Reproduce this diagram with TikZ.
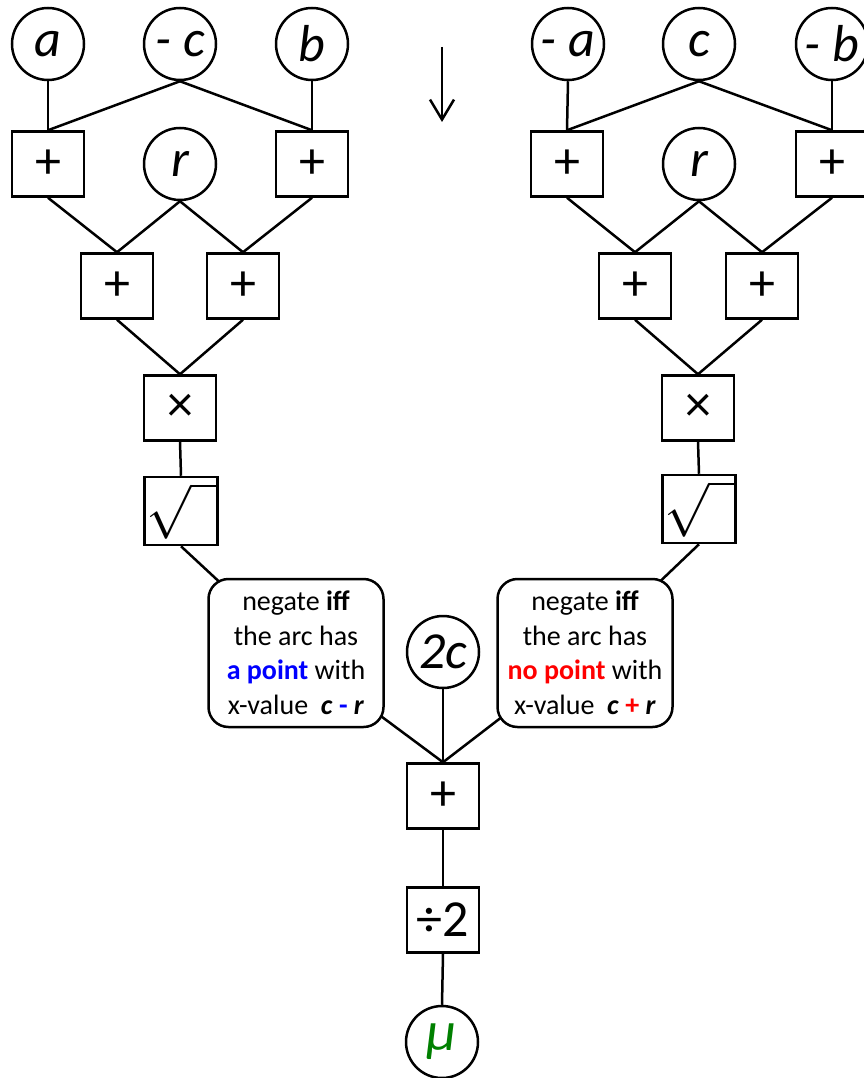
\documentclass[tikz,border=0pt]{standalone}
\usepackage{fontspec}
\setmainfont{Carlito}
\usepackage{graphicx}
\usetikzlibrary{arrows.meta,backgrounds}
\definecolor{mugreen}{RGB}{0,128,0}
\begin{document}
\begin{tikzpicture}[x=1pt,y=-1pt,line width=2.5pt,
  var/.style={circle,draw,fill=white,minimum size=72pt,inner sep=0pt,font=\fontsize{52}{52}\selectfont\itshape},
  op/.style={rectangle,draw,fill=white,minimum width=72pt,minimum height=65pt,inner sep=0pt,font=\fontsize{52}{52}\selectfont},
  rootop/.style={op,minimum width=73pt,minimum height=68pt,font=\fontsize{10}{10}\selectfont},
  note/.style={rectangle,rounded corners=20pt,draw,fill=white,minimum width=175pt,minimum height=148pt,inner sep=0pt,align=center,font=\fontsize{28}{34.5}\selectfont},
  wire/.style={line width=2.5pt}]
\useasboundingbox (0,0) rectangle (863,1078);
% left branch
\node[var] (a) at (48,44) {a};
\node[var] (nc) at (180,44) {- c};
\node[var] (b) at (312,44) {b};
\node[op] (pa) at (48,164) {+};
\node[var] (rL) at (180,164) {r};
\node[op] (pb) at (312,164) {+};
\node[op] (s1) at (117,286) {+};
\node[op] (s2) at (243,286) {+};
\node[op] (mL) at (180,408) {×};
\node[rootop] (qL) at (181,511) {\scalebox{5.4}{$\sqrt{\vphantom{n}\hspace{4.5pt}}$}};
\node[note] (nL) at (296,653) {negate \textbf{iff}\\the arc has\\\textcolor{blue}{\textbf{a point}} with\\x-value\ \ \textbf{\textit{c}} \textcolor{blue}{\textbf{-}} \textbf{\textit{r}}};
% right branch
\node[var] (na) at (568,44) {- a};
\node[var] (c) at (699,44) {c};
\node[var] (nb) at (832,44) {- b};
\node[op] (qa) at (567,164) {+};
\node[var] (rR) at (699,164) {r};
\node[op] (qb) at (832,164) {+};
\node[op] (t1) at (635,286) {+};
\node[op] (t2) at (762,286) {+};
\node[op] (mR) at (698,408) {×};
\node[rootop] (qR) at (699,509) {\scalebox{5.4}{$\sqrt{\vphantom{n}\hspace{4.5pt}}$}};
\node[note] (nR) at (585,653) {negate \textbf{iff}\\the arc has\\\textcolor{red}{\textbf{no point}} with\\x-value\ \ \textbf{\textit{c}} \textcolor{red}{\textbf{+}} \textbf{\textit{r}}};
% centre
\node[var] (tc) at (443,652) {2c};
\node[op] (sum) at (443,796) {+};
\node[op] (half) at (443,920) {÷2};
\node[var,text=mugreen,font=\fontsize{56}{56}\selectfont\itshape] (mu) at (442,1042) {μ};
\coordinate (arT) at (442,47);
\coordinate (arB) at (442,122);
\draw[-{Straight Barb[length=20pt,width=24pt]}] (arT) -- (arB);
\begin{pgfonlayer}{background}
\draw[wire] (a.south) -- (pa.north);
\draw[wire] (nc.south) -- (pa.north);
\draw[wire] (nc.south) -- (pb.north);
\draw[wire] (b.south) -- (pb.north);
\draw[wire] (pa.south) -- (s1.north);
\draw[wire] (rL.south) -- (s1.north);
\draw[wire] (rL.south) -- (s2.north);
\draw[wire] (pb.south) -- (s2.north);
\draw[wire] (s1.south) -- (mL.north);
\draw[wire] (s2.south) -- (mL.north);
\draw[wire] (mL.south) -- (qL.north);
\draw[wire] (qL.south) -- (nL.center);
\draw[wire] (na.south) -- (qa.north);
\draw[wire] (c.south) -- (qa.north);
\draw[wire] (c.south) -- (qb.north);
\draw[wire] (nb.south) -- (qb.north);
\draw[wire] (qa.south) -- (t1.north);
\draw[wire] (rR.south) -- (t1.north);
\draw[wire] (rR.south) -- (t2.north);
\draw[wire] (qb.south) -- (t2.north);
\draw[wire] (t1.south) -- (mR.north);
\draw[wire] (t2.south) -- (mR.north);
\draw[wire] (mR.south) -- (qR.north);
\draw[wire] (qR.south) -- (nR.center);
\draw[wire] (nL.center) -- (sum.north);
\draw[wire] (tc.south) -- (sum.north);
\draw[wire] (nR.center) -- (sum.north);
\draw[wire] (sum.south) -- (half.north);
\draw[wire] (half.south) -- (mu.north);
\end{pgfonlayer}
\end{tikzpicture}
\end{document}
